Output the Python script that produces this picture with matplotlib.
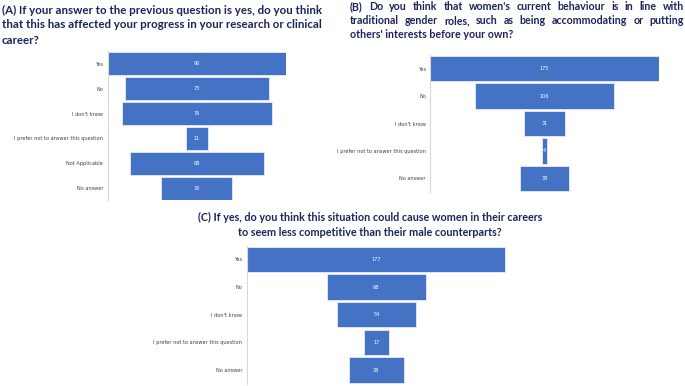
import numpy as np
import matplotlib
matplotlib.use('Agg')
import matplotlib.pyplot as plt

W, H = 685, 386
BLUE = '#4472C4'
NAVY = '#1B245C'
TITLE_FONT = 'Lato'

# panel data
cats_a = ['Yes', 'No', "I don't know", 'I prefer not to answer this question',
          'Not Applicable', 'No answer']
vals_a = [90, 73, 76, 11, 68, 36]

cats_b = ['Yes', 'No', "I don't know", 'I prefer not to answer this question', 'No answer']
vals_b = [175, 106, 31, 4, 38]

cats_c = ['Yes', 'No', "I don't know", 'I prefer not to answer this question', 'No answer']
vals_c = [177, 68, 54, 17, 38]

title_a = ["(A) If your answer to the previous question is yes, do you think",
           "that this has affected your progress in your research or clinical",
           "career?"]
title_b = ["(B) Do you think that women's current behaviour is in line with",
           "traditional gender roles, such as being accommodating or putting",
           "others' interests before your own?"]
title_c = ["(C) If yes, do you think this situation could cause women in their careers",
           "to seem less competitive than their male counterparts?"]

fig = plt.figure(figsize=(W / 100, H / 100), dpi=100)


def add_ax(x0, y0, x1, y1):
    return fig.add_axes([x0 / W, 1 - y1 / H, (x1 - x0) / W, (y1 - y0) / H])


def funnel(ax, cats, vals):
    vals = np.array(vals, dtype=float)
    m = vals.max()
    y = np.arange(len(vals))
    ax.barh(y, vals, left=-vals / 2, height=0.92, color=BLUE,
            edgecolor='#DCE4F4', linewidth=0.7)
    for yi, v in zip(y, vals):
        ax.text(0, yi, f'{int(v)}', color='white', fontsize=3.6,
                ha='center', va='center')
    ax.set_xlim(-m / 2 * 1.004, m / 2 * 1.004)
    ax.set_ylim(len(vals) - 0.5, -0.5)
    ax.set_xticks([])
    ax.set_yticks(y, cats, fontsize=3.6, color='#404040')
    ax.tick_params(axis='y', length=0, pad=3)
    for s in ['top', 'right', 'bottom']:
        ax.spines[s].set_visible(False)
    ax.spines['left'].set_color('#D9D9D9')
    ax.spines['left'].set_linewidth(0.8)


funnel(add_ax(107.5, 51.5, 286, 200.5), cats_a, vals_a)
funnel(add_ax(430, 55, 659, 192), cats_b, vals_b)
funnel(add_ax(246.5, 245.5, 506, 384), cats_c, vals_c)

renderer = fig.canvas.get_renderer()


def tkw(size):
    return dict(fontsize=size, fontweight='bold', color=NAVY, family=TITLE_FONT, va='center')


def justify(lines, x0, x1, ys, size):
    # spread the words of every line but the last across x0..x1
    for i, (line, yy) in enumerate(zip(lines, ys)):
        words = line.split(' ')
        if i == len(lines) - 1:
            fig.text(x0 / W, 1 - yy / H, line, ha='left', **tkw(size))
            continue
        objs = [fig.text(0, 1 - yy / H, w, ha='left', **tkw(size)) for w in words]
        widths = [o.get_window_extent(renderer).width for o in objs]
        gap = (x1 - x0 - sum(widths)) / (len(words) - 1)
        x = x0
        for o, w in zip(objs, widths):
            o.set_x(x / W)
            x += w + gap


for line, yy in zip(title_a, [10, 25, 40]):
    fig.text(2 / W, 1 - yy / H, line, ha='left', **tkw(8.3))

justify(title_b, 350, 684, [7, 20.5, 34], 7.7)

for line, yy in zip(title_c, [217, 232]):
    fig.text(370 / W, 1 - yy / H, line, ha='center', **tkw(7.75))

fig.savefig('out.png', dpi=100)
